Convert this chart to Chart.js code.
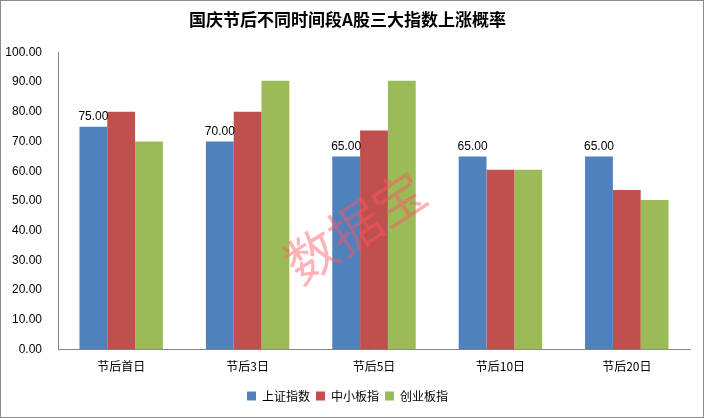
<!DOCTYPE html>
<html>
<head>
<meta charset="utf-8">
<script src="https://cdn.jsdelivr.net/npm/chart.js@4"></script>
<style>
  html, body { margin: 0; padding: 0; background: #fff; }
  #wrap { width: 702px; height: 416px; border: 1px solid #8c8c8c; position: relative; }
</style>
</head>
<body>
<div id="wrap"><canvas id="myChart" width="702" height="416"></canvas></div>
<script>
const categories = ['节后首日', '节后3日', '节后5日', '节后10日', '节后20日'];
const seriesNames = ['上证指数', '中小板指', '创业板指'];
const shanghai = [75, 70, 65, 65, 65];
const smallCap = [80, 80, 73.7, 60.5, 53.7];
const chinext = [70, 90.5, 90.5, 60.5, 50.3];
const colors = ['#4F81BD', '#C0504D', '#9BBB59'];

const labelPlugin = {
  id: 'blueLabels',
  afterDatasetsDraw(chart) {
    const ctx = chart.ctx;
    const meta = chart.getDatasetMeta(0);
    ctx.save();
    ctx.font = '12px "Liberation Sans", Arial, sans-serif';
    ctx.fillStyle = '#000';
    ctx.textAlign = 'center';
    ctx.textBaseline = 'bottom';
    meta.data.forEach((bar, i) => {
      ctx.fillText(shanghai[i].toFixed(2), bar.x, bar.y - 4);
    });
    ctx.restore();
  }
};

const watermark = {
  id: 'watermark',
  afterDatasetsDraw(chart) {
    const ctx = chart.ctx;
    ctx.save();
    ctx.translate(354, 226);
    ctx.rotate(-0.58);
    ctx.font = '52px "Noto Sans CJK SC", sans-serif';
    ctx.fillStyle = 'rgba(255, 85, 95, 0.45)';
    ctx.textAlign = 'center';
    ctx.textBaseline = 'middle';
    ctx.fillText('数据宝', 0, 0);
    ctx.restore();
  }
};

new Chart(document.getElementById('myChart'), {
  type: 'bar',
  data: {
    labels: categories,
    datasets: [
      { label: seriesNames[0], data: shanghai, backgroundColor: colors[0] },
      { label: seriesNames[1], data: smallCap, backgroundColor: colors[1] },
      { label: seriesNames[2], data: chinext, backgroundColor: colors[2] }
    ]
  },
  options: {
    responsive: false,
    animation: false,
    layout: { padding: { left: 4, right: 13, top: 0, bottom: 5 } },
    datasets: { bar: { categoryPercentage: 0.66, barPercentage: 1.0 } },
    plugins: {
      title: {
        display: true,
        text: '国庆节后不同时间段A股三大指数上涨概率',
        color: '#000',
        font: { family: '"Noto Sans CJK SC", sans-serif', size: 17, weight: 'bold' },
        padding: { top: 8, bottom: 23 }
      },
      legend: {
        position: 'bottom',
        labels: {
          boxWidth: 9, boxHeight: 9, color: '#000',
          font: { family: '"Noto Sans CJK SC", sans-serif', size: 12 },
          padding: 6
        }
      },
      tooltip: { enabled: false }
    },
    scales: {
      x: {
        grid: { display: false, drawTicks: false },
        border: { color: '#868686' },
        ticks: { color: '#000', padding: 10, font: { family: '"Noto Sans CJK SC", sans-serif', size: 12 } }
      },
      y: {
        min: 0, max: 100,
        grid: { display: false },
        border: { color: '#868686' },
        afterFit(scale) { scale.width = 53; },
        ticks: {
          stepSize: 10, color: '#000', padding: 8,
          font: { family: '"Liberation Sans", Arial, sans-serif', size: 12 },
          callback: v => v.toFixed(2)
        }
      }
    }
  },
  plugins: [labelPlugin, watermark]
});
</script>
</body>
</html>
